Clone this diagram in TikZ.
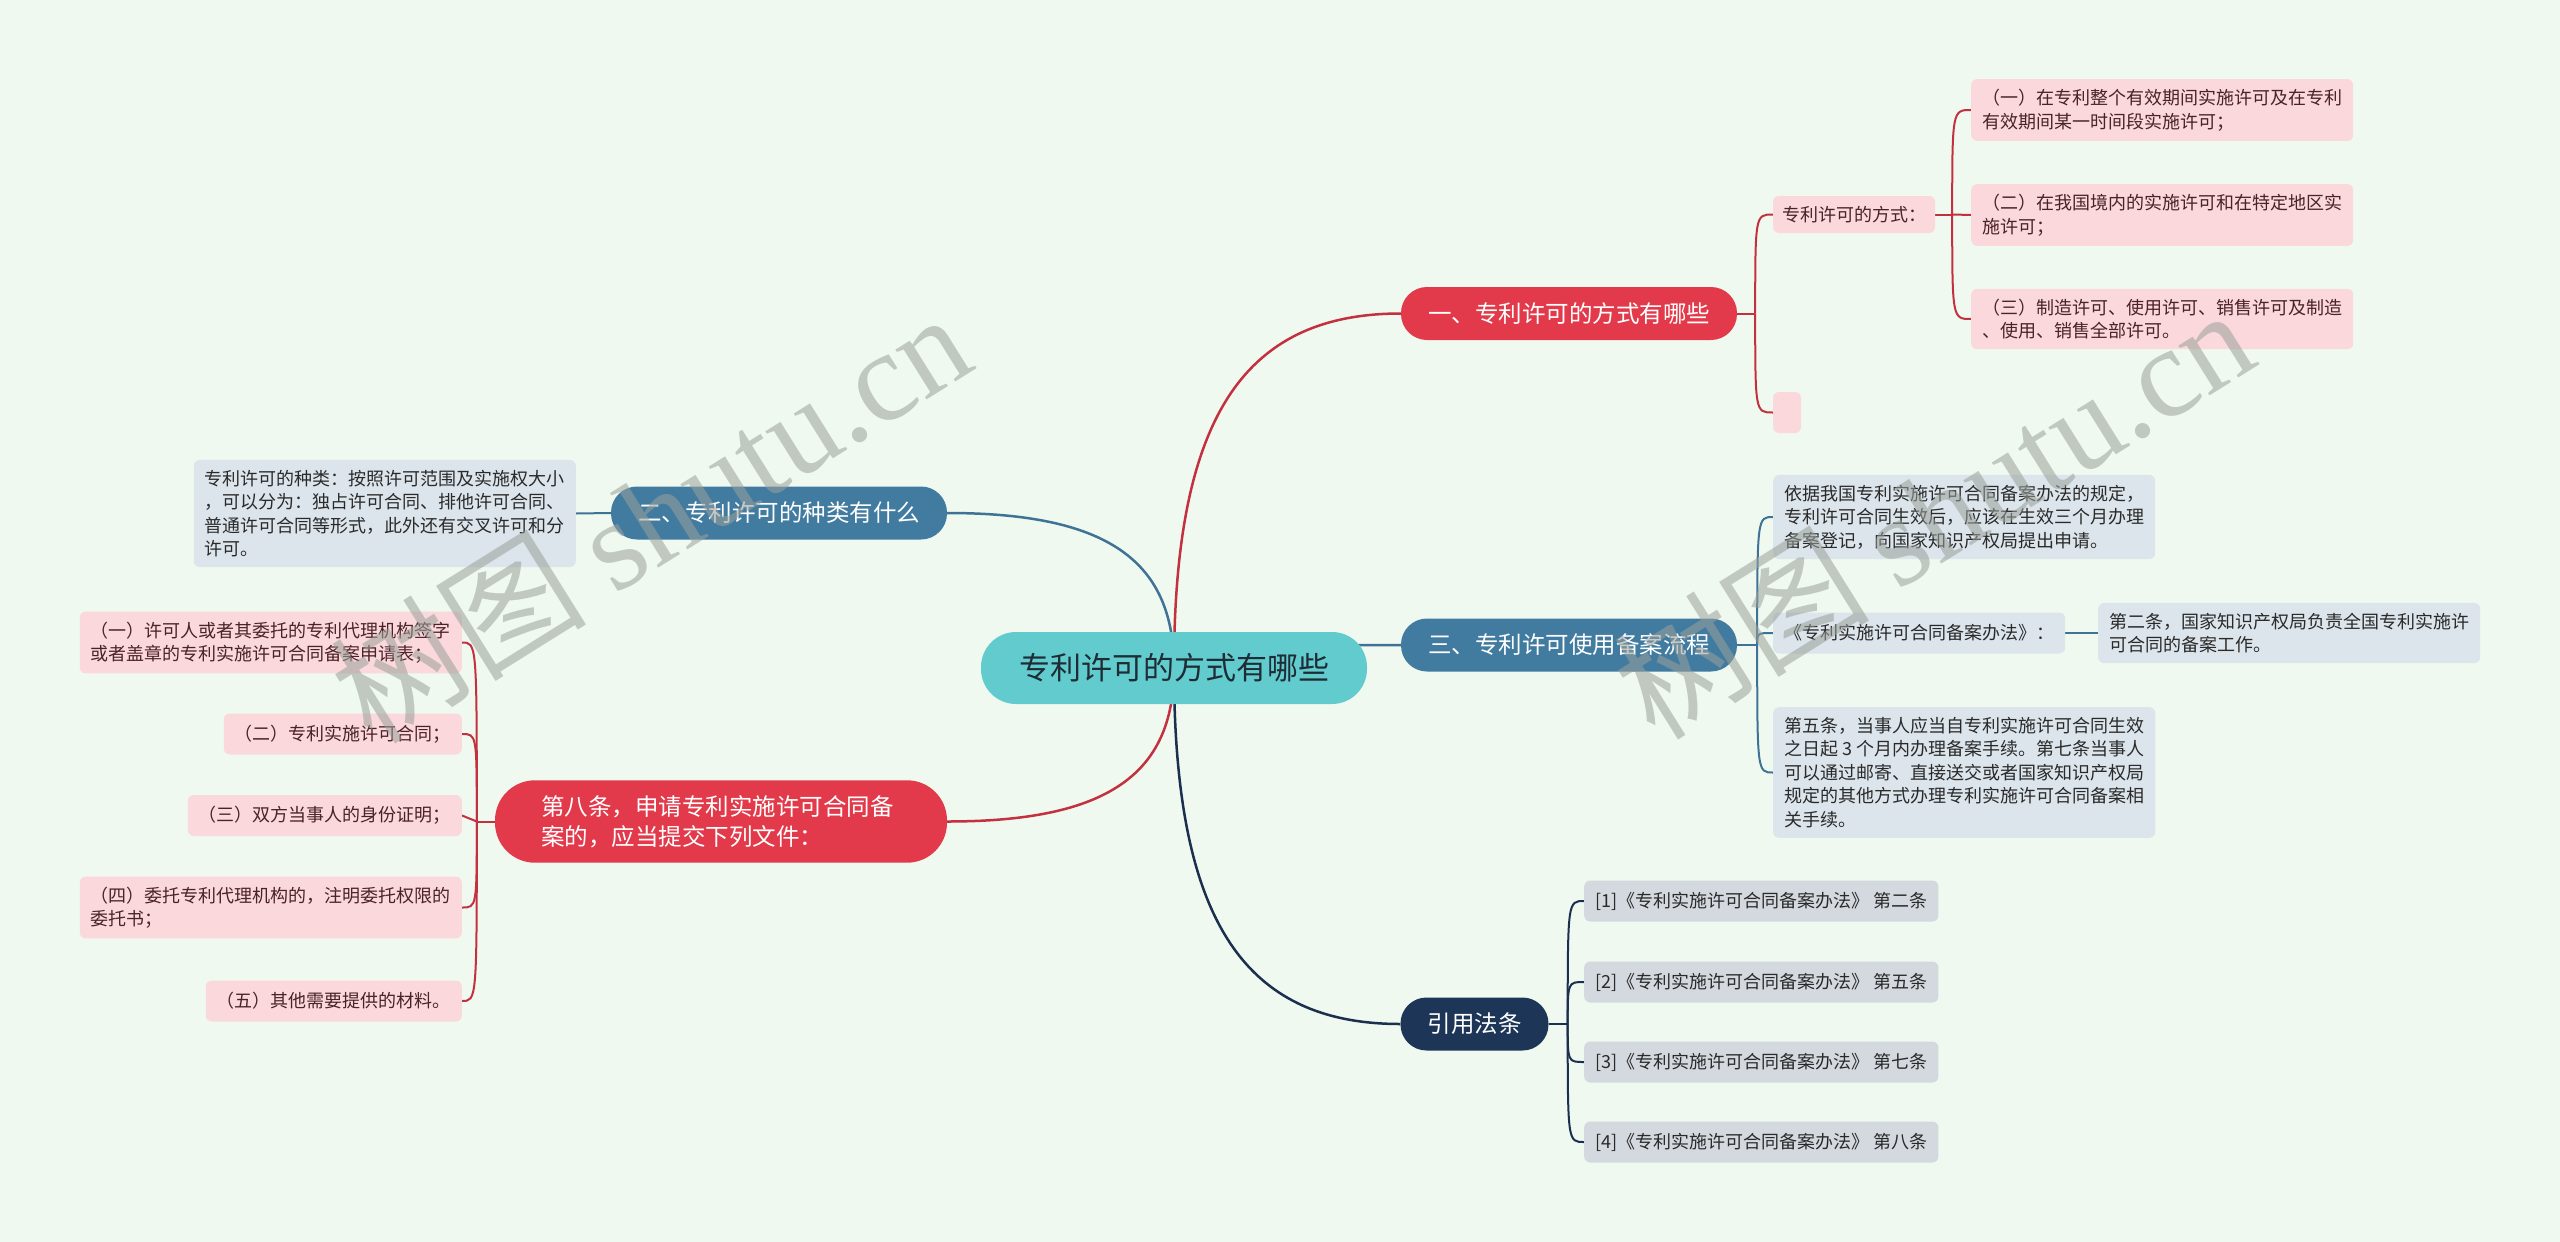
\documentclass[tikz,border=0pt]{standalone}
\usepackage{fontspec}
\setmainfont{Noto Sans CJK SC}
\newfontfamily\wmserif{Liberation Serif}
\usetikzlibrary{calc}
\definecolor{bgC}{HTML}{F0F9EF}
\definecolor{centerF}{HTML}{62CBCD}
\definecolor{centerT}{HTML}{1E2D35}
\definecolor{redF}{HTML}{E23A4A}
\definecolor{redL}{HTML}{C3303F}
\definecolor{pinkF}{HTML}{FAD8DC}
\definecolor{pinkT}{HTML}{4A2228}
\definecolor{blueF}{HTML}{417B9F}
\definecolor{blueL}{HTML}{3E7397}
\definecolor{blueLeaf}{HTML}{DCE5EC}
\definecolor{navyF}{HTML}{1D3658}
\definecolor{navyL}{HTML}{1B2F4E}
\definecolor{grayLeaf}{HTML}{D4D9DF}
\definecolor{darkT}{HTML}{2A2A2A}
\definecolor{wmC}{HTML}{9AA09A}
\pgfdeclarelayer{bg}
\pgfsetlayers{bg,main}
\newcommand\leaffont{\fontsize{18}{23.5}\selectfont}
\newcommand\branchfont{\fontsize{23.5}{30}\selectfont}
\begin{document}
\begin{tikzpicture}[x=1pt,y=-1pt,
  leaf/.style={rounded corners=6pt, inner xsep=11pt, inner ysep=10pt, minimum height=41pt, font=\leaffont, align=left},
  pinkleaf/.style={leaf, fill=pinkF, text=pinkT},
  blueleaf/.style={leaf, fill=blueLeaf, text=darkT},
  grayleaf/.style={leaf, fill=grayLeaf, text=darkT},
  branch/.style={rounded corners=26pt, minimum height=53pt, inner xsep=27pt, inner ysep=0pt, font=\branchfont, text=white},
  mainline/.style={line width=2.5pt},
  subline/.style={line width=2pt},
  wm/.style={text=wmC, text opacity=0.55, font=\fontsize{128}{128}\selectfont, rotate=32, inner sep=0pt}
]
% center
\node[fill=centerF, text=centerT, rounded corners=35pt, minimum width=386pt, minimum height=72pt, inner sep=0pt, font=\fontsize{31}{36}\selectfont] (c) at (1174,668) {专利许可的方式有哪些};

% branches
\node[branch, fill=redF] (b1) at (1569,313.5) {一、专利许可的方式有哪些};
\node[branch, fill=blueF] (b3) at (1569,645) {三、专利许可使用备案流程};
\node[branch, fill=navyF] (b4) at (1474.5,1024) {引用法条};
\node[branch, fill=blueF] (b2) at (779,513) {二、专利许可的种类有什么};
\node[branch, fill=redF, rounded corners=40pt, text width=360pt, inner xsep=46pt, inner ysep=15pt, align=left, font=\fontsize{23.5}{30}\selectfont] (b5) at (721,821.5) {第八条，申请专利实施许可合同备\\案的，应当提交下列文件：};

% branch 1 children
\node[pinkleaf, inner ysep=0pt, minimum height=37pt, inner xsep=9pt] (m1) at (1854,214.5) {专利许可的方式：};
\node[fill=pinkF, rounded corners=6pt, minimum width=28pt, minimum height=41pt, inner sep=0pt] (m2) at (1787,412.5) {};
\node[pinkleaf, anchor=west] (c1) at (1971,110) {（一）在专利整个有效期间实施许可及在专利\\有效期间某一时间段实施许可；};
\node[pinkleaf, anchor=west] (c2) at (1971,215) {（二）在我国境内的实施许可和在特定地区实\\施许可；};
\node[pinkleaf, anchor=west] (c3) at (1971,319) {（三）制造许可、使用许可、销售许可及制造\\、使用、销售全部许可。};

% branch 3 children
\node[blueleaf, anchor=west] (d1) at (1773,517) {依据我国专利实施许可合同备案办法的规定，\\专利许可合同生效后，应该在生效三个月办理\\备案登记，向国家知识产权局提出申请。};
\node[blueleaf, anchor=west] (d2) at (1773,633) {《专利实施许可合同备案办法》：};
\node[blueleaf, anchor=west] (d2a) at (2098,633) {第二条，国家知识产权局负责全国专利实施许\\可合同的备案工作。};
\node[blueleaf, anchor=west] (d3) at (1773,772.5) {第五条，当事人应当自专利实施许可合同生效\\之日起 3 个月内办理备案手续。第七条当事人\\可以通过邮寄、直接送交或者国家知识产权局\\规定的其他方式办理专利实施许可合同备案相\\关手续。};

% branch 4 children
\node[grayleaf, anchor=west] (r1) at (1584,901) {[1]《专利实施许可合同备案办法》 第二条};
\node[grayleaf, anchor=west] (r2) at (1584,982) {[2]《专利实施许可合同备案办法》 第五条};
\node[grayleaf, anchor=west] (r3) at (1584,1062) {[3]《专利实施许可合同备案办法》 第七条};
\node[grayleaf, anchor=west] (r4) at (1584,1142) {[4]《专利实施许可合同备案办法》 第八条};

% branch 2 child
\node[blueleaf, anchor=east] (k1) at (576,513.5) {专利许可的种类：按照许可范围及实施权大小\\，可以分为：独占许可合同、排他许可合同、\\普通许可合同等形式，此外还有交叉许可和分\\许可。};

% branch 5 children
\node[pinkleaf, anchor=east] (e1) at (462,642.5) {（一）许可人或者其委托的专利代理机构签字\\或者盖章的专利实施许可合同备案申请表；};
\node[pinkleaf, anchor=east] (e2) at (462,734) {（二）专利实施许可合同；};
\node[pinkleaf, anchor=east] (e3) at (462,815.5) {（三）双方当事人的身份证明；};
\node[pinkleaf, anchor=east] (e4) at (462,907.5) {（四）委托专利代理机构的，注明委托权限的\\委托书；};
\node[pinkleaf, anchor=east] (e5) at (462,1001) {（五）其他需要提供的材料。};

% junctions
\coordinate (j1) at ($(b1.east)+(18,0)$);
\coordinate (jm) at ($(m1.east)+(17,0)$);
\coordinate (j3) at ($(b3.east)+(20,0)$);
\coordinate (j4) at ($(b4.east)+(19,0)$);
\coordinate (j5) at ($(b5.west)+(-18,0)$);

\begin{pgfonlayer}{bg}
\fill[bgC] (0,0) rectangle (2560,1242);
% main connectors
\draw[mainline, redL] (c.center) .. controls ($(c.center)!0.7!(c.center|-b1.west)$) and ($(c.center|-b1.west)!0.3!(b1.west)$) .. (b1.west);
\draw[mainline, blueL] (c.center) .. controls ($(c.center)!0.7!(c.center|-b3.west)$) and ($(c.center|-b3.west)!0.3!(b3.west)$) .. (b3.west);
\draw[mainline, navyL] (c.center) .. controls ($(c.center)!0.7!(c.center|-b4.west)$) and ($(c.center|-b4.west)!0.3!(b4.west)$) .. (b4.west);
\draw[mainline, blueL] (c.center) .. controls ($(c.center)!0.7!(c.center|-b2.east)$) and ($(c.center|-b2.east)!0.3!(b2.east)$) .. (b2.east);
\draw[mainline, redL] (c.center) .. controls ($(c.center)!0.7!(c.center|-b5.east)$) and ($(c.center|-b5.east)!0.3!(b5.east)$) .. (b5.east);
% branch 1
\draw[subline, redL] (b1.east) -- (j1);
\draw[subline, redL] (j1) .. controls (j1|-m1.west) .. (m1.west);
\draw[subline, redL] (j1) .. controls (j1|-m2.west) .. (m2.west);
\draw[subline, redL] (m1.east) -- (jm);
\draw[subline, redL] (jm) .. controls (jm|-c1.west) .. (c1.west);
\draw[subline, redL] (jm) -- (c2.west);
\draw[subline, redL] (jm) .. controls (jm|-c3.west) .. (c3.west);
% branch 3
\draw[subline, blueL] (b3.east) -- (j3);
\draw[subline, blueL] (j3) .. controls (j3|-d1.west) .. (d1.west);
\draw[subline, blueL] (j3) .. controls (j3|-d2.west) .. (d2.west);
\draw[subline, blueL] (j3) .. controls (j3|-d3.west) .. (d3.west);
\draw[subline, blueL] (d2.east) -- (d2a.west);
% branch 4
\draw[subline, navyL] (b4.east) -- (j4);
\draw[subline, navyL] (j4) .. controls (j4|-r1.west) .. (r1.west);
\draw[subline, navyL] (j4) .. controls (j4|-r2.west) .. (r2.west);
\draw[subline, navyL] (j4) .. controls (j4|-r3.west) .. (r3.west);
\draw[subline, navyL] (j4) .. controls (j4|-r4.west) .. (r4.west);
% branch 2
\draw[subline, blueL] (b2.west) -- (k1.east);
% branch 5
\draw[subline, redL] (b5.west) -- (j5);
\draw[subline, redL] (j5) .. controls (j5|-e1.east) .. (e1.east);
\draw[subline, redL] (j5) .. controls (j5|-e2.east) .. (e2.east);
\draw[subline, redL] (j5) -- (e3.east);
\draw[subline, redL] (j5) .. controls (j5|-e4.east) .. (e4.east);
\draw[subline, redL] (j5) .. controls (j5|-e5.east) .. (e5.east);
\end{pgfonlayer}

% watermarks
\node[wm] (w1) at (650,516) {树图 {\wmserif shutu.cn}};
\node[wm] (w2) at (1933,512) {树图 {\wmserif shutu.cn}};
\end{tikzpicture}
\end{document}
